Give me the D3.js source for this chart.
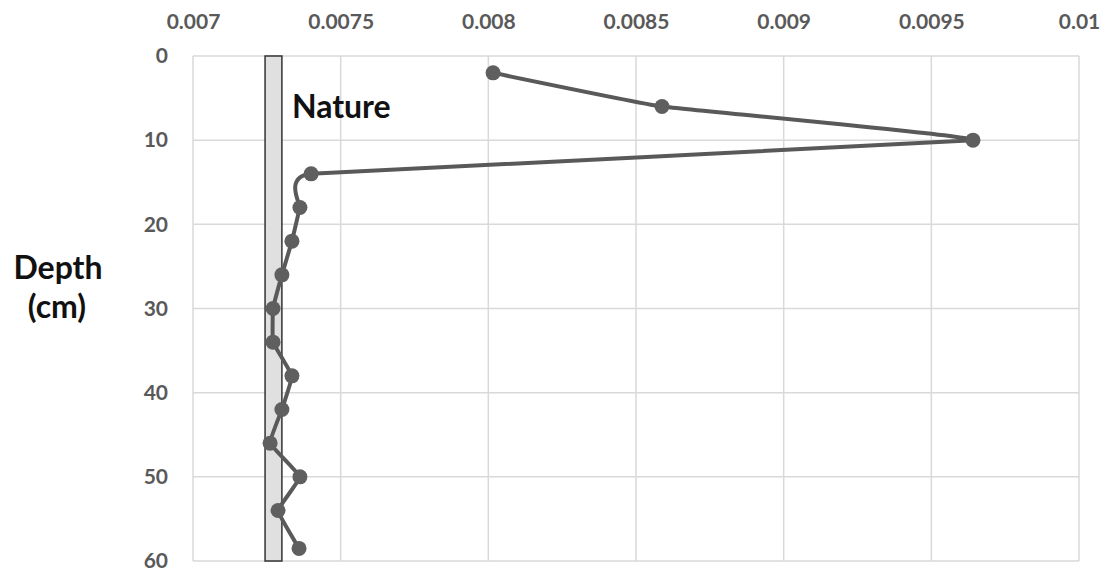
<!DOCTYPE html>
<html><head><meta charset="utf-8">
<script src="https://cdn.jsdelivr.net/npm/d3@7"></script>
<style>body{margin:0;background:#fff;} svg{display:block;}</style>
</head><body>
<svg id="c" width="1109" height="574"></svg>
<script>
const depths = [2, 6, 10, 14, 18, 22, 26, 30, 34, 38, 42, 46, 50, 54, 58.5];
const values = [0.008016, 0.008588, 0.009641, 0.0074, 0.007362, 0.007335, 0.007301, 0.007271, 0.007271, 0.007335, 0.007301, 0.007261, 0.007362, 0.007288, 0.007359];
const xTicks = [0.007, 0.0075, 0.008, 0.0085, 0.009, 0.0095, 0.01];
const xTickLabels = ["0.007", "0.0075", "0.008", "0.0085", "0.009", "0.0095", "0.01"];
const yTicks = [0, 10, 20, 30, 40, 50, 60];
const natureBand = [0.007244, 0.007301];
const natureLabel = "Nature";
const yTitle = ["Depth", "(cm)"];

const svg = d3.select("#c");
const L = 193, R = 1079, T = 56, B = 561;
const x = d3.scaleLinear().domain([0.007, 0.01]).range([L, R]);
const y = d3.scaleLinear().domain([0, 60]).range([T, B]);
const font = "Lato, 'Open Sans', sans-serif";

// gridlines
svg.append("g").selectAll("line").data(xTicks).join("line")
  .attr("x1", d => x(d)).attr("x2", d => x(d)).attr("y1", T).attr("y2", B)
  .attr("stroke", "#d9d9d9").attr("stroke-width", 1.5);
svg.append("g").selectAll("line").data(yTicks).join("line")
  .attr("x1", L).attr("x2", R).attr("y1", d => y(d)).attr("y2", d => y(d))
  .attr("stroke", "#d9d9d9").attr("stroke-width", 1.5);

// axes (top x, left y) labels only
const xAxis = d3.axisTop(x).tickValues(xTicks).tickFormat((d, i) => xTickLabels[i]).tickSize(0).tickPadding(0);
const gx = svg.append("g").attr("transform", `translate(0,${T - 27})`).call(xAxis);
gx.select(".domain").remove();
gx.selectAll("text").attr("font-family", font).attr("font-weight", "bold").attr("font-size", 21).attr("fill", "#595959");

const yAxis = d3.axisLeft(y).tickValues(yTicks).tickFormat(d3.format("d")).tickSize(0).tickPadding(0);
const gy = svg.append("g").attr("transform", `translate(${L - 25},0)`).call(yAxis);
gy.select(".domain").remove();
gy.selectAll("text").attr("font-family", font).attr("font-weight", "bold").attr("font-size", 21).attr("fill", "#595959");

// nature band
svg.append("rect")
  .attr("x", x(natureBand[0])).attr("width", x(natureBand[1]) - x(natureBand[0]))
  .attr("y", y(0)).attr("height", y(60) - y(0))
  .attr("fill", "#e0e0e0").attr("stroke", "#333").attr("stroke-width", 1.5);

svg.append("text").attr("x", x(natureBand[1]) + 10).attr("y", 118)
  .attr("font-family", font).attr("font-weight", "bold").attr("font-size", 32)
  .attr("fill", "#111").text(natureLabel);

// line
const pts = depths.map((d, i) => [values[i], d]);
svg.append("path").datum(pts)
  .attr("d", d3.line().x(d => x(d[0])).y(d => y(d[1])).curve(d3.curveCardinal.tension(0.75)))
  .attr("fill", "none").attr("stroke", "#595959").attr("stroke-width", 4);
svg.append("g").selectAll("circle").data(pts).join("circle")
  .attr("cx", d => x(d[0])).attr("cy", d => y(d[1])).attr("r", 7.5)
  .attr("fill", "#5f5f5f");

// y title
svg.append("text").attr("x", 58).attr("y", 279).attr("text-anchor", "middle")
  .attr("font-family", font).attr("font-weight", "bold").attr("font-size", 32).attr("fill", "#111").text(yTitle[0]);
svg.append("text").attr("x", 57).attr("y", 318).attr("text-anchor", "middle")
  .attr("font-family", font).attr("font-weight", "bold").attr("font-size", 32).attr("fill", "#111").text(yTitle[1]);
</script>
</body></html>
